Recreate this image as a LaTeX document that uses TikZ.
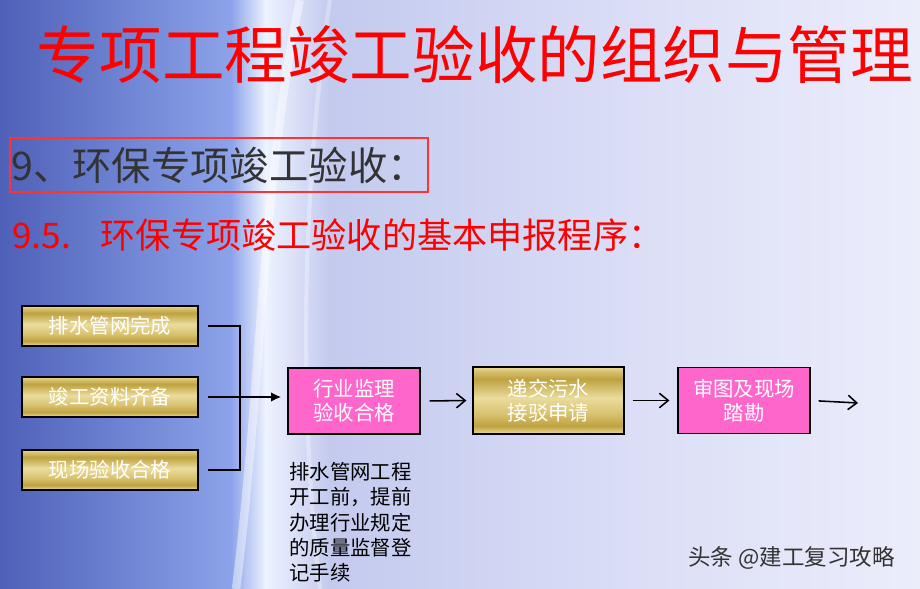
\documentclass[tikz,border=0pt]{standalone}
\usepackage{fontspec}
\newfontfamily\cjk{Noto Sans CJK SC}
\usetikzlibrary{arrows.meta}

\definecolor{bgdeep}{HTML}{4E60B8}
\definecolor{bgblue}{HTML}{8CA3EA}
\definecolor{bgshine}{HTML}{EEF3FF}
\definecolor{bglav}{HTML}{C3CAEE}
\definecolor{bgmid}{HTML}{DADDF6}
\definecolor{bgpale}{HTML}{ECEDFB}
\definecolor{goldlt}{HTML}{EADC9C}
\definecolor{golddk}{HTML}{BFA240}
\definecolor{goldmd}{HTML}{D8C270}
\definecolor{pinkfill}{HTML}{FF66CC}
\definecolor{titlered}{HTML}{FF0000}
\definecolor{headgray}{HTML}{333333}

\pgfdeclareverticalshading{goldbar}{100bp}{color(0bp)=(goldlt); color(25bp)=(goldlt);
  color(31bp)=(golddk); color(40bp)=(goldmd); color(52bp)=(goldlt); color(66bp)=(golddk);
  color(72bp)=(goldmd); color(75bp)=(goldlt); color(100bp)=(goldlt)}

\tikzset{
  goldbox/.style={draw=black, line width=0.8pt, shading=goldbar, text=white,
    inner sep=0pt, align=center, font=\cjk\fontsize{14.5}{17}\selectfont},
  pinkbox/.style={draw=black, line width=0.8pt, fill=pinkfill, text=white,
    minimum width=3.3cm, minimum height=1.65cm, inner sep=0pt, align=center,
    font=\cjk\fontsize{14.5}{17}\selectfont},
  bracket/.style={black, line width=1.5pt},
  flow/.style={black, line width=1.1pt, -{Straight Barb[length=2.2mm, width=3.6mm, line width=1.1pt]}},
  feed/.style={black, line width=1.5pt, -{Latex[length=2.6mm, width=2.4mm]}},
}

\begin{document}
\begin{tikzpicture}[x=0.025cm, y=-0.025cm]
        \useasboundingbox (0,0) rectangle (920,589);

        % slide background
        \shade[left color=bgdeep, right color=bgblue] (0,0) rectangle (232,589);
        \shade[left color=bgblue, right color=bgshine] (231,0) rectangle (266,589);
        \shade[left color=bgshine, right color=bglav] (265,0) rectangle (330,589);
        \shade[left color=bglav, right color=bgmid] (329,0) rectangle (620,589);
        \shade[left color=bgmid, right color=bgpale] (619,0) rectangle (920,589);
        \draw[white, opacity=0.45, line width=6pt] (300,0) .. controls (262,180) and (262,380) .. (236,589);
        \draw[white, opacity=0.3, line width=3pt] (330,0) .. controls (300,200) and (300,420) .. (320,589);

        % titles
        \node[text=titlered, font=\cjk\fontsize{44.5}{50}\selectfont] (title) at (475,55) {专项工程竣工验收的组织与管理};

        \node[draw=red!80, line width=1.6pt, minimum width=10.45cm, minimum height=1.35cm,
              inner sep=0pt, text=headgray, font=\cjk\fontsize{28}{32}\selectfont] (section) at (219,165)
              {9、环保专项竣工验收：};
        \node[anchor=west, text=titlered, inner sep=0pt, font=\cjk\fontsize{25}{28}\selectfont] (subsection) at (12,235)
              {9.5.\hspace{0.75cm}环保专项竣工验收的基本申报程序：};

        % left column
        \node[goldbox, minimum width=4.4cm, minimum height=1cm] (drain) at (110,326) {排水管网完成};
        \node[goldbox, minimum width=4.4cm, minimum height=1cm] (docs) at (110,397) {竣工资料齐备};
        \node[goldbox, minimum width=4.4cm, minimum height=1cm] (site) at (110,470) {现场验收合格};

        % main row
        \node[pinkbox] (trade) at (354,401) {行业监理\\验收合格};
        \node[goldbox, minimum width=3.775cm, minimum height=1.675cm] (apply) at (548.5,400.5) {递交污水\\接驳申请};
        \node[pinkbox] (survey) at (744,400.5) {审图及现场\\踏勘};
        \coordinate (next) at (858,403);
        \coordinate (jx) at (240,0);

        \draw[bracket] ([xshift=0.225cm]drain.east) -- (drain.east -| jx) -- (site.east -| jx) -- ([xshift=0.225cm]site.east);
        \draw[feed, shorten >=0.15cm] ([xshift=0.225cm]docs.east) -- (docs.east -| trade.west);
        \draw[flow, shorten <=0.225cm, shorten >=0.15cm] (trade.east) -- (apply.west);
        \draw[flow, shorten <=0.2cm, shorten >=0.2cm] (apply.east) -- (survey.west);
        \draw[flow, shorten <=0.2cm] (survey.east) -- (next);

        % note under the first step
        \node[anchor=north west, align=left, inner sep=0pt, text=black,
              font=\cjk\fontsize{14.5}{18}\selectfont] (note) at (289,462)
              {排水管网工程\\开工前，提前\\办理行业规定\\的质量监督登\\记手续};

        % watermark
        \node[anchor=west, text=headgray, inner sep=0pt, font=\cjk\fontsize{16}{18}\selectfont] (mark) at (688,558) {头条 @建工复习攻略};
    \end{tikzpicture}
\end{document}
